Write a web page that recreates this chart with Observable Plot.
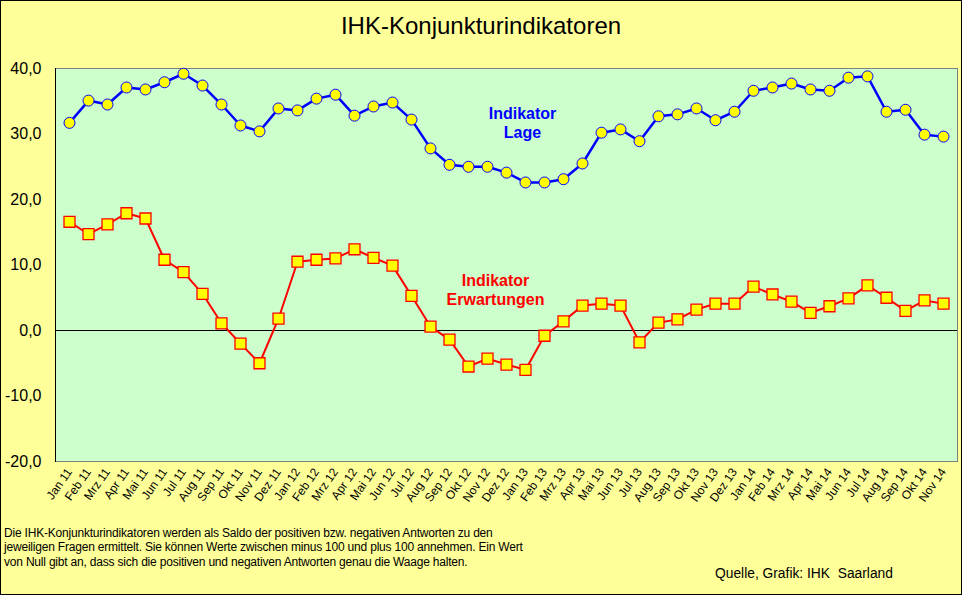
<!DOCTYPE html>
<html>
<head>
<meta charset="utf-8">
<script src="https://cdn.jsdelivr.net/npm/d3@7"></script>
<script src="https://cdn.jsdelivr.net/npm/@observablehq/plot@0.6"></script>
<style>
  html, body { margin: 0; padding: 0; background: #FFFF99; }
  #page { position: relative; width: 962px; height: 595px; background: #FFFF99; box-shadow: inset 0 0 0 1px #000; font-family: "Liberation Sans", Arial, sans-serif; overflow: hidden; }
  #title { position: absolute; left: 0; top: 12px; width: 962px; text-align: center; font-size: 24px; line-height: 28px; color: #000; }
  #chart { position: absolute; left: 0; top: 55px; }
  #note { position: absolute; left: 4px; top: 526px; font-size: 12px; line-height: 14.3px; color: #000; letter-spacing: -0.2px; }
  #source { position: absolute; left: 715px; top: 566px; font-size: 13.8px; color: #000; }
</style>
</head>
<body>
<div id="page">
  <div id="title">IHK-Konjunkturindikatoren</div>
  <div id="chart"></div>
  <div id="note">Die IHK-Konjunkturindikatoren werden als Saldo der positiven bzw. negativen Antworten zu den<br>jeweiligen Fragen ermittelt. Sie können Werte zwischen minus 100 und plus 100 annehmen. Ein Wert<br>von Null gibt an, dass sich die positiven und negativen Antworten genau die Waage halten.</div>
  <div id="source">Quelle, Grafik: IHK&nbsp; Saarland</div>
</div>
<script>
const months = [
  "Jan 11","Feb 11","Mrz 11","Apr 11","Mai 11","Jun 11","Jul 11","Aug 11","Sep 11","Okt 11","Nov 11","Dez 11",
  "Jan 12","Feb 12","Mrz 12","Apr 12","Mai 12","Jun 12","Jul 12","Aug 12","Sep 12","Okt 12","Nov 12","Dez 12",
  "Jan 13","Feb 13","Mrz 13","Apr 13","Mai 13","Jun 13","Jul 13","Aug 13","Sep 13","Okt 13","Nov 13","Dez 13",
  "Jan 14","Feb 14","Mrz 14","Apr 14","Mai 14","Jun 14","Jul 14","Aug 14","Sep 14","Okt 14","Nov 14"
];
const lage = [
  31.7, 35.1, 34.5, 37.1, 36.8, 37.9, 39.2, 37.4, 34.5, 31.3, 30.4, 33.9,
  33.6, 35.4, 36.0, 32.8, 34.2, 34.8, 32.2, 27.8, 25.3, 25.0, 25.0, 24.1,
  22.6, 22.6, 23.1, 25.5, 30.2, 30.7, 28.9, 32.7, 33.0, 33.9, 32.1, 33.4,
  36.6, 37.1, 37.7, 36.8, 36.6, 38.6, 38.8, 33.4, 33.7, 29.9, 29.6
];
const erwartungen = [
  16.6, 14.7, 16.2, 17.9, 17.1, 10.8, 8.9, 5.6, 1.1, -2.0, -5.0, 1.8,
  10.5, 10.8, 11.0, 12.4, 11.1, 9.9, 5.3, 0.6, -1.4, -5.5, -4.3, -5.2,
  -6.0, -0.8, 1.4, 3.8, 4.1, 3.8, -1.8, 1.2, 1.7, 3.2, 4.1, 4.1,
  6.7, 5.5, 4.4, 2.7, 3.7, 4.9, 6.9, 5.0, 3.0, 4.6, 4.1
];
const yTicks = [-20, -10, 0, 10, 20, 30, 40];
const seriesNames = ["Indikator\nLage", "Indikator\nErwartungen"];
const labelMonth = ["Jan 13", "Nov 12"];
const labelValue = [31.8, 6.3];

const lageData = months.map((m, i) => ({month: m, value: lage[i]}));
const erwData = months.map((m, i) => ({month: m, value: erwartungen[i]}));
const labels = seriesNames.map((t, i) => ({text: t, month: labelMonth[i], value: labelValue[i], color: i === 0 ? "#0000FF" : "#FF0000"}));

const fmt = d => d.toFixed(1).replace(".", ",");

const chart = Plot.plot({
  width: 962,
  height: 465,
  marginTop: 13,
  marginBottom: 59,
  marginLeft: 55,
  marginRight: 5,
  style: {background: "transparent", fontFamily: "'Liberation Sans', Arial, sans-serif", color: "#000"},
  x: {type: "point", domain: months, padding: 0.5},
  y: {domain: [-20, 40]},
  marks: [
    Plot.frame({fill: "#CCFFCC", stroke: "#808080", strokeWidth: 1}),
    Plot.frame({anchor: "left", stroke: "#000", strokeWidth: 1}),
    Plot.ruleY([0], {stroke: "#000", strokeWidth: 1}),
    Plot.axisY({ticks: yTicks, tickFormat: fmt, tickSize: 0, tickPadding: 14, fontSize: 16, label: null}),
    Plot.axisX({tickRotate: -55, tickSize: 0, tickPadding: 8, fontSize: 12, label: null}),
    Plot.line(lageData, {x: "month", y: "value", stroke: "#0000FF", strokeWidth: 2.5}),
    Plot.dot(lageData, {x: "month", y: "value", r: 5.5, fill: "#FFFF00", stroke: "#0000FF", strokeWidth: 1}),
    Plot.line(erwData, {x: "month", y: "value", stroke: "#FF0000", strokeWidth: 2}),
    Plot.dot(erwData, {x: "month", y: "value", symbol: "square", r: 6.2, fill: "#FFFF00", stroke: "#FF0000", strokeWidth: 1.3}),
    Plot.text(labels.slice(0,1), {x: "month", y: "value", text: "text", fill: "color", fontSize: 16, fontWeight: "bold", lineHeight: 1.2, dx: -3}),
    Plot.text(labels.slice(1), {x: "month", y: "value", text: "text", fill: "color", fontSize: 16, fontWeight: "bold", lineHeight: 1.2, dx: 8})
  ]
});
document.getElementById("chart").appendChild(chart);
</script>
</body>
</html>
